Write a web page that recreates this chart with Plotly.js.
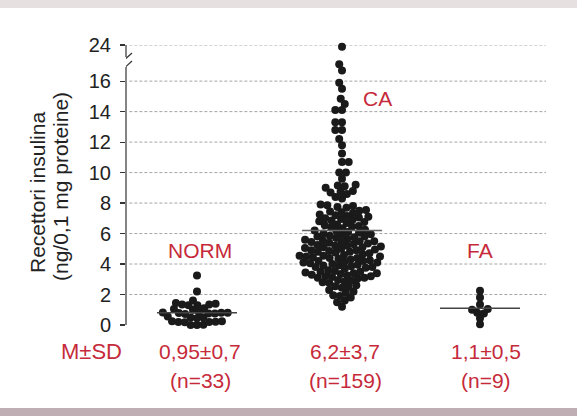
<!DOCTYPE html>
<html><head><meta charset="utf-8">
<script src="https://cdn.plot.ly/plotly-3.0.1.min.js"></script>
<style>html,body{margin:0;padding:0;background:#fff;} #chart{width:577px;height:416px;}</style>
</head><body><div id="chart"></div>
<script>
// ---- data ----
const groups = ["NORM", "CA", "FA"];
const normValues = [3.25, 2.2, 1.6,
  1.3, 1.35, 1.4, 1.35, 1.45, 1.3,
  1.05, 1.0, 1.1,
  0.8, 0.75, 0.85, 0.78, 0.8, 0.72, 0.82, 0.76,
  0.5, 0.55, 0.45, 0.5,
  0.22, 0.2, 0.25, 0.18, 0.24, 0.2,
  0.0, 0.02, 0.0];
const caValues = [23.2, 17.1, 16.7, 15.9, 15.5, 14.85, 14.5, 14.1, 14.1, 13.3, 13.3, 12.8, 12.8,
  12.2, 11.8, 11.25, 10.7, 10.7, 10.0, 10.0, 9.6,
  9.1, 9.2, 9.0, 9.15,
  8.8, 8.7, 8.75, 8.6,
  8.4, 8.3,
  7.9, 7.8, 7.75, 7.85, 7.7,
  7.5, 7.4, 7.45, 7.55, 7.35,
  7.1, 7.2, 7.0, 7.15, 7.05, 7.25,
  6.8, 6.9, 6.75, 6.85, 6.7, 6.95,
  6.5, 6.4, 6.45, 6.55, 6.35, 6.6,
  6.1, 6.2, 6.0, 6.15, 6.05, 6.25,
  5.8, 5.9, 5.7, 5.85, 5.75, 5.95, 5.65, 5.8,
  5.5, 5.4, 5.55, 5.45, 5.6, 5.35, 5.5, 5.45,
  5.1, 5.2, 5.15, 5.05, 5.25, 5.0, 5.3, 5.1, 5.2,
  4.8, 4.9, 4.75, 4.85, 4.7, 4.95, 4.65, 4.8, 4.9,
  4.5, 4.4, 4.55, 4.45, 4.6, 4.35, 4.5, 4.4, 4.55,
  4.2, 4.1, 4.15, 4.25, 4.05, 4.3, 4.0, 4.2, 4.1,
  3.8, 3.9, 3.85, 3.75, 3.95, 3.7, 3.8, 3.9,
  3.5, 3.4, 3.55, 3.45, 3.6, 3.35, 3.5, 3.4,
  3.2, 3.1, 3.25, 3.15, 3.3, 3.05, 3.2, 3.1,
  2.9, 2.8, 2.85, 2.75, 2.95,
  2.5, 2.6, 2.45, 2.55,
  2.2, 2.3, 2.1,
  1.9, 1.8, 1.95,
  1.5, 1.6,
  1.2];
const faValues = [2.25, 1.8, 1.35, 1.0, 1.05, 0.75, 0.8, 0.45, 0.05];
const means = [0.8, 6.2, 1.1];
const statLabels = ["0,95±0,7", "6,2±3,7", "1,1±0,5"];
const nLabels = ["(n=33)", "(n=159)", "(n=9)"];
const yTickVals = [0, 2, 4, 6, 8, 10, 12, 14, 16, 24];
const yTitleLines = ["Recettori insulina", "(ng/0,1 mg proteine)"];
const rowLabel = "M±SD";

// ---- layout constants ----
const W = 577, H = 416, ML = 126, MR = 31, MT = 45, MB = 91;
const plotW = W - ML - MR, plotH = H - MT - MB;
const RED = "#c62a3a";
const FONT = "Liberation Sans, Arial, Helvetica, sans-serif";
// broken axis: values above 17.5 are compressed
function disp(v) { return v <= 17.5 ? v : 17.5 + (v - 17.5) * 0.134; }
const yMax = disp(24);
const PXY = plotH / yMax;
const centers = [71, 216, 354];
const meanHalf = [40, 40, 40];
const swarmD = [6.4, 6.7, 6.0];
const labelPos = [[74, 4.92], [251, 14.83], [354, 4.92]];
function py2paper(py) { return (MT + plotH - py) / plotH; }
function px2paper(px) { return (px - ML) / plotW; }

function swarm(vals, d) {
  const pts = vals.map(v => ({ v, py: disp(v) * PXY })).sort((a, b) => a.py - b.py);
  const placed = [];
  let flip = 1;
  for (const p of pts) {
    const cands = [0];
    for (const q of placed) {
      const dy = Math.abs(q.py - p.py);
      if (dy < d) { const dx = Math.sqrt(d * d - dy * dy); cands.push(q.x + dx, q.x - dx); }
    }
    flip = -flip;
    cands.sort((a, b) => (Math.abs(a) - Math.abs(b)) || (flip * (a - b)));
    for (const c of cands) {
      if (placed.every(q => (q.x - c) ** 2 + (q.py - p.py) ** 2 >= d * d - 1e-6)) { p.x = c; break; }
    }
    placed.push(p);
  }
  return placed;
}

const allVals = [normValues, caValues, faValues];
const traces = allVals.map((vals, i) => {
  const s = swarm(vals, swarmD[i]);
  return {
    type: "scatter", mode: "markers", name: groups[i],
    x: s.map(p => centers[i] + p.x), y: s.map(p => disp(p.v)),
    marker: { size: 8, color: "#1a1a1a", line: { width: 0 } },
    cliponaxis: false, hoverinfo: "skip", showlegend: false
  };
});

const shapes = [];
// background strips
shapes.push({ type: "rect", xref: "paper", yref: "paper", x0: px2paper(0), x1: px2paper(W),
  y0: py2paper(8), y1: py2paper(0), fillcolor: "#e6e0e0", line: { width: 0 }, layer: "below" });
shapes.push({ type: "rect", xref: "paper", yref: "paper", x0: px2paper(0), x1: px2paper(W),
  y0: py2paper(H), y1: py2paper(408), fillcolor: "#bfaeb3", line: { width: 0 }, layer: "below" });
// gridlines
yTickVals.forEach(v => {
  if (v === 0) return;
  shapes.push({ type: "line", xref: "paper", yref: "y", x0: 0.008, x1: 1, y0: disp(v), y1: disp(v),
    line: { color: "#a5a5a5", width: 1, dash: "3px,2px" }, layer: "below" });
});
// broken y axis line
shapes.push({ type: "line", xref: "paper", yref: "y", x0: 0, x1: 0, y0: 0, y1: 16.93, line: { color: "#333", width: 1.2 } });
shapes.push({ type: "line", xref: "paper", yref: "y", x0: 0, x1: 0, y0: 17.59, y1: yMax, line: { color: "#333", width: 1.2 } });
shapes.push({ type: "line", xref: "x", yref: "y", x0: -5, x1: 6, y0: 17.19, y1: 17.85, line: { color: "#333", width: 1.2 } });
shapes.push({ type: "line", xref: "x", yref: "y", x0: -6, x1: 6, y0: 16.6, y1: 17.32, line: { color: "#333", width: 1.2 } });
// mean lines
means.forEach((m, i) => {
  shapes.push({ type: "line", xref: "x", yref: "y", x0: centers[i] - meanHalf[i], x1: centers[i] + meanHalf[i],
    y0: m, y1: m, line: { color: i === 1 ? "#666" : "#444", width: 1.6 }, layer: "above" });
});

const annotations = [];
const redFont = { size: 21, color: RED, family: FONT };
groups.forEach((g, i) => {
  annotations.push({ text: g, x: labelPos[i][0], y: labelPos[i][1], xref: "x", yref: "y", showarrow: false, font: redFont });
  const cx = px2paper(ML + centers[i] + (i === 2 ? 6 : 3));
  annotations.push({ text: statLabels[i], x: cx, y: py2paper(351), xref: "paper", yref: "paper",
    xanchor: "center", yanchor: "middle", showarrow: false, font: redFont });
  annotations.push({ text: nLabels[i], x: cx, y: py2paper(380), xref: "paper", yref: "paper",
    xanchor: "center", yanchor: "middle", showarrow: false, font: redFont });
});
annotations.push({ text: rowLabel, x: px2paper(91), y: py2paper(351), xref: "paper", yref: "paper",
  xanchor: "center", yanchor: "middle", showarrow: false, font: { size: 22, color: RED, family: FONT } });
[37, 60].forEach((px, k) => {
  annotations.push({ text: yTitleLines[k], x: px2paper(px), y: py2paper(k === 0 ? 193 : 187), xref: "paper", yref: "paper",
    textangle: -90, showarrow: false, xanchor: "center", yanchor: "middle",
    font: { size: 21, color: "#222", family: FONT } });
});

const layout = {
  width: W, height: H,
  margin: { l: ML, r: MR, t: MT, b: MB, pad: 0 },
  paper_bgcolor: "#ffffff", plot_bgcolor: "rgba(0,0,0,0)",
  showlegend: false,
  xaxis: { range: [0, plotW], visible: false, fixedrange: true },
  yaxis: {
    range: [0, yMax], tickmode: "array",
    tickvals: yTickVals.map(disp), ticktext: yTickVals.map(String),
    ticks: "outside", ticklen: 5, tickwidth: 1.2, tickcolor: "#333",
    showgrid: false, zeroline: false, showline: false,
    tickfont: { size: 20, color: "#222", family: FONT },
    ticklabelstandoff: 5, fixedrange: true
  },
  shapes, annotations,
  font: { family: FONT }
};

Plotly.newPlot("chart", traces, layout, { displayModeBar: false, staticPlot: true });
</script>
</body></html>
